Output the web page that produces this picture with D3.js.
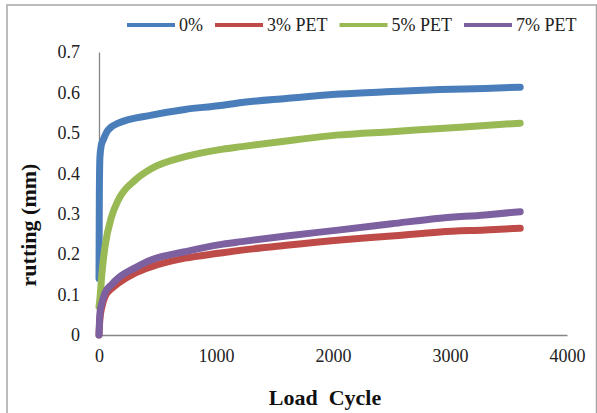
<!DOCTYPE html>
<html><head><meta charset="utf-8">
<script src="https://cdn.jsdelivr.net/npm/d3@7"></script>
<style>
body{margin:0;background:#fff;}
text{font-family:"Liberation Serif","Times New Roman",serif;}
</style></head>
<body><svg id="c" width="597" height="413"></svg>
<script>
const seriesNames = ["0%", "3% PET", "5% PET", "7% PET"];
const seriesColors = ["#4a7ebb", "#be4b48", "#98b954", "#7d60a0"];
const xTicks = [0, 1000, 2000, 3000, 4000];
const yTicks = [0, 0.1, 0.2, 0.3, 0.4, 0.5, 0.6, 0.7];

const cyclesBlue = [0, 3, 8, 20, 35, 77, 165, 450, 735, 1020, 1220, 1600, 2060, 2500, 2915, 3300, 3600];
const rut0 = [0.14, 0.35, 0.44, 0.47, 0.482, 0.507, 0.524, 0.544, 0.558, 0.567, 0.575, 0.585, 0.596, 0.602, 0.607, 0.61, 0.613];

const cycles = [0, 8, 25, 51, 108, 165, 308, 450, 735, 1020, 1220, 1600, 2060, 2500, 2915, 3300, 3600];
const rut3 = [0, 0.04, 0.07, 0.095, 0.115, 0.128, 0.153, 0.169, 0.19, 0.202, 0.21, 0.222, 0.235, 0.245, 0.255, 0.26, 0.264];
const rut5 = [0.07, 0.09, 0.153, 0.218, 0.293, 0.334, 0.383, 0.412, 0.441, 0.458, 0.466, 0.48, 0.495, 0.503, 0.511, 0.518, 0.524];
const rut7 = [0, 0.054, 0.08, 0.104, 0.125, 0.141, 0.166, 0.186, 0.206, 0.223, 0.231, 0.245, 0.26, 0.275, 0.289, 0.297, 0.305];

const series = [
  {name: seriesNames[0], color: seriesColors[0], xs: cyclesBlue, ys: rut0},
  {name: seriesNames[1], color: seriesColors[1], xs: cycles, ys: rut3},
  {name: seriesNames[2], color: seriesColors[2], xs: cycles, ys: rut5},
  {name: seriesNames[3], color: seriesColors[3], xs: cycles, ys: rut7}
];

const svg = d3.select("#c");
// outer frame
svg.append("rect").attr("x", 7).attr("y", 5).attr("width", 589.5).attr("height", 430)
  .attr("fill", "none").attr("stroke", "#a6a6a6").attr("stroke-width", 1.5);

const x = d3.scaleLinear().domain([0, 4000]).range([99, 567]);
const y = d3.scaleLinear().domain([0, 0.7]).range([335, 52]);

// axes
const gx = svg.append("g").attr("transform", "translate(0,335)")
  .call(d3.axisBottom(x).tickValues(xTicks).tickSize(0).tickPadding(14).tickFormat(d3.format("d")));
const gy = svg.append("g").attr("transform", "translate(99,0)")
  .call(d3.axisLeft(y).tickValues(yTicks).tickSize(0).tickPadding(19).tickFormat(d => d === 0 ? "0" : d3.format(".1f")(d)));
[gx, gy].forEach(g => {
  g.select(".domain").attr("stroke", "#868686").attr("stroke-width", 1.3);
  g.selectAll("text").attr("font-size", 18).attr("fill", "#222")
    .attr("font-family", "Liberation Serif, serif");
});

// lines
const line = d3.line().x(d => x(d[0])).y(d => y(d[1])).curve(d3.curveMonotoneX);
series.forEach(s => {
  const pts = s.xs.map((c, i) => [c, s.ys[i]]);
  svg.append("path").attr("d", line(pts)).attr("fill", "none")
    .attr("stroke", s.color).attr("stroke-width", 7)
    .attr("stroke-linejoin", "round").attr("stroke-linecap", "round");
});

// legend
let lx = 127;
series.forEach(s => {
  svg.append("line").attr("x1", lx).attr("x2", lx + 48).attr("y1", 25).attr("y2", 25)
    .attr("stroke", s.color).attr("stroke-width", 4);
  const t = svg.append("text").attr("x", lx + 52).attr("y", 31).attr("font-size", 18)
    .attr("fill", "#222").text(s.name);
  lx = lx + 52 + t.node().getComputedTextLength() + 12;
});

// axis titles
svg.append("text").attr("x", 325).attr("y", 405).attr("text-anchor", "middle")
  .attr("font-size", 22).attr("font-weight", "bold").attr("fill", "#111")
  .style("white-space", "pre").text("Load  Cycle");
svg.append("text").attr("transform", "translate(36,225) rotate(-90)").attr("text-anchor", "middle")
  .attr("font-size", 22).attr("font-weight", "bold").attr("fill", "#111")
  .text("rutting (mm)");
</script></body></html>
